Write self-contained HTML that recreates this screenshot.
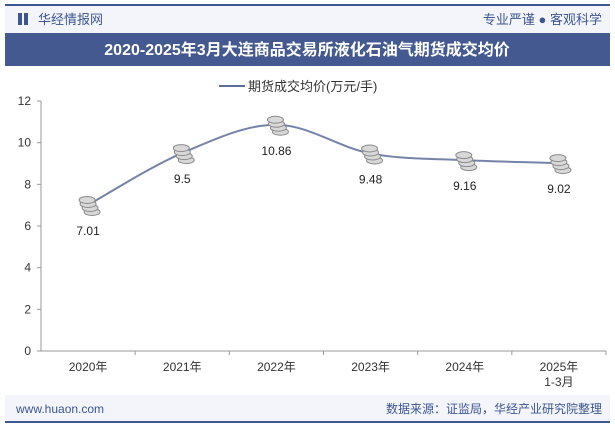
<!DOCTYPE html>
<html><head><meta charset="utf-8"><style>
body{margin:0;width:615px;height:427px;background:#fff;overflow:hidden;font-family:"Liberation Sans","Noto Sans CJK SC",sans-serif}
</style></head><body>
<svg width="615" height="427" style="position:absolute;left:0;top:0">
<rect x="5" y="5" width="605" height="28" fill="#f3f5fa"/>
<line x1="5" y1="5" x2="610" y2="5" stroke="#3d5590" stroke-width="2"/>
<rect x="18" y="13" width="4" height="12" fill="#3d5590"/><rect x="24" y="13" width="4" height="12" fill="#3d5590"/>
<text x="38" y="24" font-size="13" fill="#3d5590">华经情报网</text>
<text x="602" y="24" font-size="13" fill="#3d5590" text-anchor="end">专业严谨 ● 客观科学</text>
<rect x="5" y="33" width="605" height="33" fill="#44598f"/>
<text x="307" y="55" font-size="16" font-weight="bold" fill="#fff" text-anchor="middle">2020-2025年3月大连商品交易所液化石油气期货成交均价</text>
<g><line x1="219" y1="86" x2="245" y2="86" stroke="#5d6f99" stroke-width="2"/>
<text x="248" y="91" font-size="13" fill="#333">期货成交均价(万元/手)</text></g>
<g id="axes"></g><g id="marks"></g>
<rect x="5" y="395" width="605" height="26" fill="#f3f5fa"/>
<line x1="5" y1="422" x2="610" y2="422" stroke="#3d5590" stroke-width="2"/>
<text x="16" y="413" font-size="12" fill="#3d5590">www.huaon.com</text>
<text x="602" y="413" font-size="12" fill="#3d5590" text-anchor="end">数据来源：证监局，华经产业研究院整理</text>
</svg>
<script>
const categories=["2020年","2021年","2022年","2023年","2024年","2025年"];
const values=[7.01,9.5,10.86,9.48,9.16,9.02];
const yTicks=[0,2,4,6,8,10,12];
const ns="http://www.w3.org/2000/svg";
const X0=41,X1=606,Y0=351,Y1=101;
const bw=(X1-X0)/categories.length;
const x=i=>X0+bw*(i+0.5);
const y=v=>Y0-(v/12)*(Y0-Y1);
function mk(t,a,p){const e=document.createElementNS(ns,t);for(const k in a)e.setAttribute(k,a[k]);p.appendChild(e);return e;}
const ax=document.getElementById('axes'),mg=document.getElementById('marks');
const yl=mk('line',{x1:X0,y1:Y1,x2:X0,y2:Y0,stroke:'#999'},ax);


const xl=mk('line',{x1:X0,y1:Y0,x2:X1,y2:Y0,stroke:'#999'},ax);


yTicks.forEach(v=>{mk('line',{x1:X0-4,x2:X0,y1:y(v),y2:y(v),stroke:'#999'},ax);
const t=mk('text',{x:X0-10,y:y(v)+4,'font-size':12,fill:'#333','text-anchor':'end'},ax);t.textContent=v;

});
categories.forEach((c,i)=>{mk('line',{x1:X0+bw*(i+1),x2:X0+bw*(i+1),y1:Y0,y2:Y0+4,stroke:'#999'},ax);
const t=mk('text',{x:x(i),y:371,'font-size':12,fill:'#333','text-anchor':'middle'},ax);t.textContent=c;


if(i==categories.length-1){const t2=mk('text',{x:x(i),y:386,'font-size':12,fill:'#333','text-anchor':'middle'},ax);t2.textContent="1-3月";

}});
const pts=values.map((v,i)=>[x(i),y(v)]);
let d=`M${pts[0][0]},${pts[0][1]}`;
for(let i=0;i<pts.length-1;i++){const p0=pts[i-1]||pts[i],p1=pts[i],p2=pts[i+1],p3=pts[i+2]||p2;
d+=` C${p1[0]+(p2[0]-p0[0])/6},${p1[1]+(p2[1]-p0[1])/6} ${p2[0]-(p3[0]-p1[0])/6},${p2[1]-(p3[1]-p1[1])/6} ${p2[0]},${p2[1]}`;}
const line=mk('path',{d:d,fill:'none',stroke:'#7583a8','stroke-width':2},mg);


values.forEach((v,i)=>{const g=mk('g',{},mg);


[[4,7],[2,3],[0,-1],[-1,-5]].forEach(o=>mk('ellipse',{cx:x(i)+o[0],cy:y(v)+o[1],rx:8,ry:3.5,fill:'#d8d8d8',stroke:'#8a8a8a'},g));
const t=mk('text',{x:x(i),y:y(v)+30,'font-size':12,fill:'#222','text-anchor':'middle'},mg);t.textContent=v;

});
</script>
</body></html>
